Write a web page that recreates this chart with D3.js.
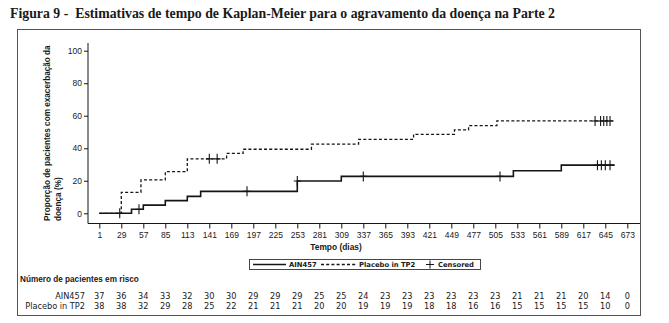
<!DOCTYPE html>
<html>
<head>
<meta charset="utf-8">
<script src="https://cdn.jsdelivr.net/npm/d3@7"></script>
<style>
  body { margin: 0; background: #fff; }
  text { fill: #1a1a1a; }
</style>
</head>
<body>
<svg id="chart" width="669" height="323"></svg>
<script>
// Visit days used for the x-axis ticks and the at-risk table
const visitDays = [1, 29, 57, 85, 113, 141, 169, 197, 225, 253, 281, 309, 337, 365,
                   393, 421, 449, 477, 505, 533, 561, 589, 617, 645, 673];
const yTicks = [0, 20, 40, 60, 80, 100];

// Number at risk per visit day
const riskAIN = [37, 36, 34, 33, 32, 30, 30, 29, 29, 29, 25, 25, 24, 23, 23, 23, 23, 23, 23, 21, 21, 21, 20, 14, 0];
const riskPBO = [38, 38, 32, 29, 28, 25, 22, 21, 21, 21, 20, 20, 19, 19, 19, 18, 18, 16, 16, 15, 15, 15, 15, 10, 0];

// Kaplan-Meier cumulative proportion with exacerbation (%): [day, value]
const stepsAIN = [[1, 0], [42, 2.5], [57, 5.0], [85, 7.8], [113, 10.4], [130, 13.5],
                  [253, 19.9], [309, 22.7], [528, 26.2], [589, 29.6]];
const stepsPBO = [[1, 0], [29, 12.9], [54, 20.5], [85, 25.6], [113, 33.5], [163, 36.8],
                  [184, 39.4], [271, 42.5], [331, 45.5], [401, 48.6], [453, 51.3],
                  [471, 53.9], [507, 56.8]];
const lastDayAIN = 657;
const lastDayPBO = 657;

// Censoring times (days)
const censorAIN = [27, 51.5, 189, 253, 337, 511, 635, 640, 645, 651];
const censorPBO = [141, 151, 632, 639, 643, 647, 651];

const seriesNames = ["AIN457", "Placebo in TP2"];

const svg = d3.select("#chart");
const ink = "#151515";

// Title
svg.append("text")
  .attr("x", 10).attr("y", 18)
  .attr("font-family", "Liberation Serif, serif")
  .attr("font-weight", "bold")
  .attr("font-size", 14)
  .attr("textLength", 545)
  .attr("lengthAdjust", "spacingAndGlyphs")
  .style("white-space", "pre")
  .text("Figura 9 -  Estimativas de tempo de Kaplan-Meier para o agravamento da doença na Parte 2");

// Outer frame
svg.append("rect")
  .attr("x", 17.5).attr("y", 29.5)
  .attr("width", 623).attr("height", 286)
  .attr("fill", "none").attr("stroke", "#555").attr("stroke-width", 1);

// Scales
const plot = { left: 88, right: 640, top: 43, bottom: 223.5 };
const x = d3.scaleLinear().domain([1, 673]).range([99.3, 627.3]);
const y = d3.scaleLinear().domain([0, 100]).range([213.3, 50.7]);

// Axes
const xAxis = svg.append("g")
  .attr("transform", `translate(0,${plot.bottom})`)
  .call(d3.axisBottom(x).tickValues(visitDays).tickSize(5).tickPadding(3).tickFormat(d3.format("d")));
xAxis.select(".domain").remove();
xAxis.selectAll("line").attr("stroke", ink);
xAxis.selectAll("text").attr("font-family", "Liberation Sans, Arial, sans-serif").attr("font-size", 8.5).attr("fill", "#222");

svg.append("line")
  .attr("x1", plot.left).attr("x2", plot.right)
  .attr("y1", plot.bottom).attr("y2", plot.bottom)
  .attr("stroke", ink).attr("stroke-width", 1);

const yAxis = svg.append("g")
  .attr("transform", `translate(${plot.left},0)`)
  .call(d3.axisLeft(y).tickValues(yTicks).tickSize(4).tickPadding(2));
yAxis.select(".domain").remove();
yAxis.selectAll("line").attr("stroke", ink);
yAxis.selectAll("text").attr("font-family", "Liberation Sans, Arial, sans-serif").attr("font-size", 8.5).attr("fill", "#222");

svg.append("line")
  .attr("x1", plot.left).attr("x2", plot.left)
  .attr("y1", plot.top).attr("y2", plot.bottom)
  .attr("stroke", ink).attr("stroke-width", 1);

// Axis titles
const yTitle = svg.append("text")
  .attr("transform", "translate(50,221) rotate(-90)")
  .attr("font-family", "Liberation Sans, Arial, sans-serif")
  .attr("font-weight", "bold")
  .attr("font-size", 8.2);
yTitle.append("tspan").attr("x", 0).attr("y", 0).text("Proporção de pacientes com exacerbação da");
yTitle.append("tspan").attr("x", 0).attr("y", 11).text("doença (%)");

svg.append("text")
  .attr("x", 336).attr("y", 250)
  .attr("text-anchor", "middle")
  .attr("font-family", "Liberation Sans, Arial, sans-serif")
  .attr("font-weight", "bold")
  .attr("font-size", 8.4)
  .text("Tempo (dias)");

// KM step curves
function stepValue(steps, t) {
  let v = steps[0][1];
  for (const [d, val] of steps) if (d <= t) v = val;
  return v;
}
const stepLine = d3.line().x(d => x(d[0])).y(d => y(d[1])).curve(d3.curveStepAfter);

function drawSeries(steps, lastDay, dash, width) {
  const pts = steps.concat([[lastDay, steps[steps.length - 1][1]]]);
  svg.append("path")
    .attr("d", stepLine(pts))
    .attr("fill", "none")
    .attr("stroke", ink)
    .attr("stroke-width", width)
    .attr("stroke-dasharray", dash);
}
drawSeries(stepsPBO, lastDayPBO, "3,2.2", 1.3);
drawSeries(stepsAIN, lastDayAIN, null, 1.6);

function drawCensor(times, steps) {
  svg.append("g").selectAll("path")
    .data(times)
    .join("path")
    .attr("d", t => {
      const cx = x(t), cy = y(stepValue(steps, t));
      return `M${cx},${cy - 5}V${cy + 5}M${cx - 3.5},${cy}H${cx + 3.5}`;
    })
    .attr("stroke", ink)
    .attr("stroke-width", 1.1)
    .attr("fill", "none");
}
drawCensor(censorAIN, stepsAIN);
drawCensor(censorPBO, stepsPBO);

// Legend
const legY = 264.5;
const leg = svg.append("g").attr("font-family", "DejaVu Sans, Verdana, sans-serif")
  .attr("font-weight", "bold").attr("font-size", 6.8);
leg.append("rect").attr("x", 249.5).attr("y", 259.5).attr("width", 231).attr("height", 10)
  .attr("fill", "#fff").attr("stroke", "#333").attr("stroke-width", 0.9);
leg.append("line").attr("x1", 253).attr("x2", 286).attr("y1", legY).attr("y2", legY)
  .attr("stroke", ink).attr("stroke-width", 1.6);
leg.append("text").attr("x", 289).attr("y", legY + 2.5).text(seriesNames[0]);
leg.append("line").attr("x1", 321).attr("x2", 356).attr("y1", legY).attr("y2", legY)
  .attr("stroke", ink).attr("stroke-width", 1.3).attr("stroke-dasharray", "3,2.2");
leg.append("text").attr("x", 359).attr("y", legY + 2.5).text(seriesNames[1]);
leg.append("path").attr("d", `M430,${legY - 4}V${legY + 4}M426,${legY}H434`)
  .attr("stroke", ink).attr("stroke-width", 1);
leg.append("text").attr("x", 438).attr("y", legY + 2.5).text("Censored");

// At-risk table
svg.append("text")
  .attr("x", 20).attr("y", 282)
  .attr("font-family", "Liberation Sans, Arial, sans-serif")
  .attr("font-weight", "bold")
  .attr("font-size", 8.2)
  .text("Número de pacientes em risco");

const rows = [
  { name: seriesNames[0], values: riskAIN, y: 298.5 },
  { name: seriesNames[1], values: riskPBO, y: 308.5 }
];
const table = svg.append("g").attr("font-family", "DejaVu Sans, Verdana, sans-serif").attr("font-size", 8.2);
rows.forEach(r => {
  table.append("text").attr("x", 85).attr("y", r.y).attr("text-anchor", "end").text(r.name);
  table.append("g").selectAll("text")
    .data(r.values)
    .join("text")
    .attr("x", (d, i) => x(visitDays[i]))
    .attr("y", r.y)
    .attr("text-anchor", "middle")
    .text(d => d);
});
</script>
</body>
</html>
